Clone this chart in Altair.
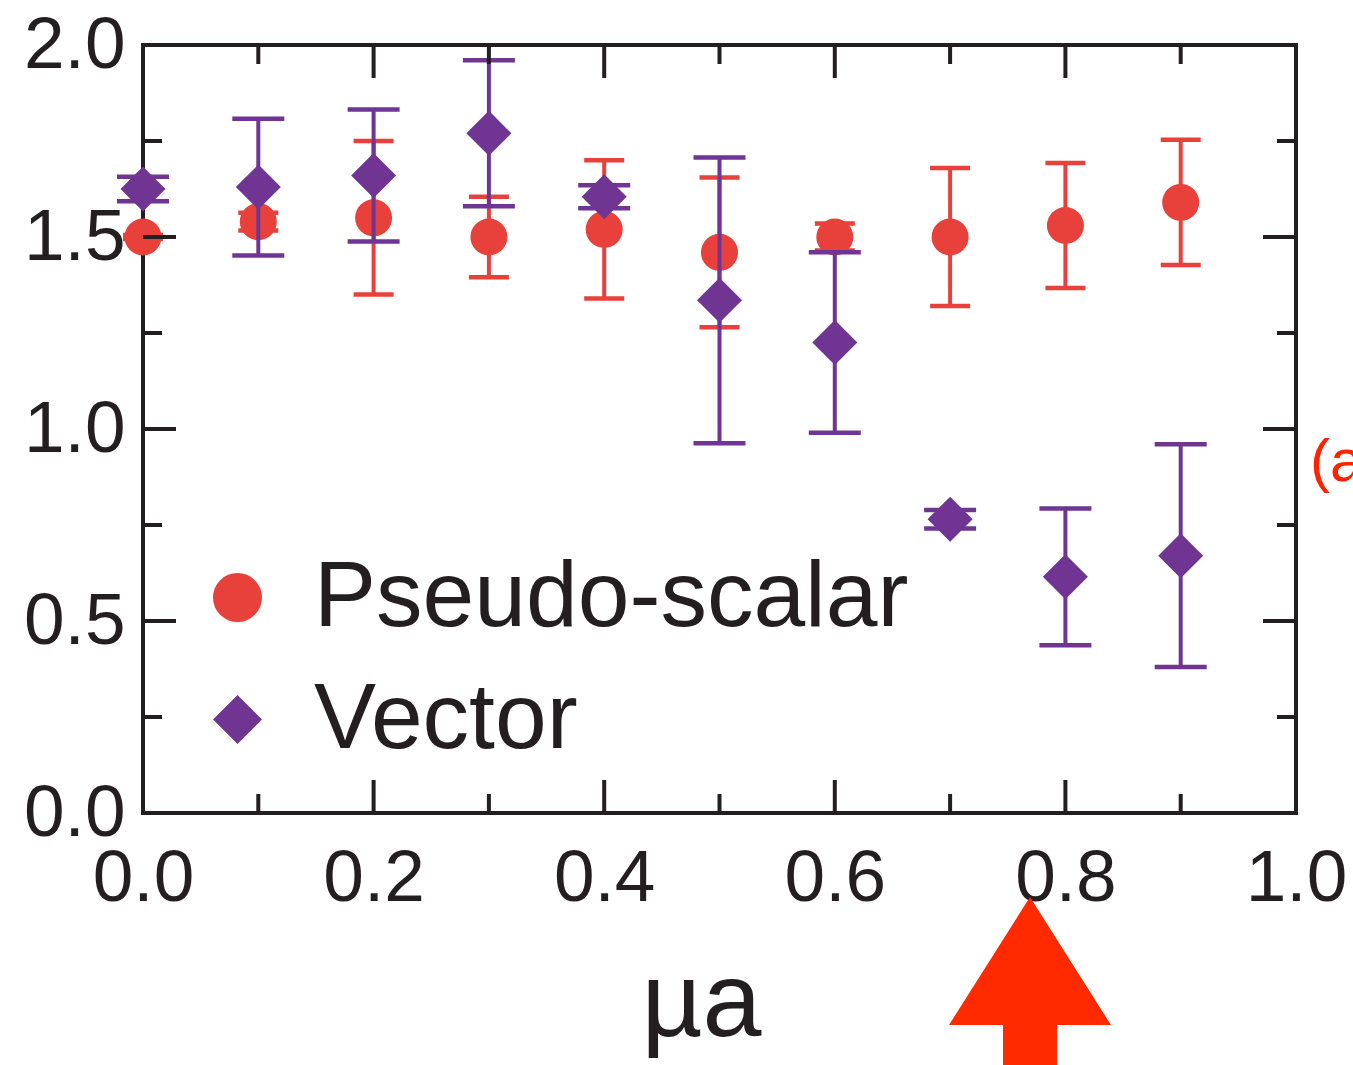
import altair as alt
import pandas as pd

# Lattice mass ratios against the mass parameter mu*a
mu = [0.0, 0.1, 0.2, 0.3, 0.4, 0.5, 0.6, 0.7, 0.8, 0.9]
pseudo_scalar = [1.50, 1.54, 1.55, 1.50, 1.52, 1.46, 1.50, 1.50, 1.53, 1.59]
pseudo_scalar_err = [0.005, 0.023, 0.20, 0.105, 0.18, 0.195, 0.035, 0.18, 0.163, 0.163]
vector = [1.625, 1.63, 1.66, 1.77, 1.605, 1.335, 1.225, 0.765, 0.615, 0.67]
vector_err = [0.032, 0.178, 0.172, 0.19, 0.03, 0.372, 0.235, 0.024, 0.178, 0.29]

series_names = ["Pseudo-scalar", "Vector"]
series_colors = ["#e8403a", "#703593"]
series_shapes = ["circle", "diamond"]

x_major = [0.0, 0.2, 0.4, 0.6, 0.8, 1.0]
x_minor = [0.1, 0.3, 0.5, 0.7, 0.9]
y_major = [0.0, 0.5, 1.0, 1.5, 2.0]
y_minor = [0.25, 0.75, 1.25, 1.75]

W, H = 1153, 768
FRAME = "#231f20"
FONT = "Liberation Sans"

rows = []
for name, vals, errs in [("Pseudo-scalar", pseudo_scalar, pseudo_scalar_err),
                         ("Vector", vector, vector_err)]:
    for m, v, e in zip(mu, vals, errs):
        rows.append({"mu": m, "value": v, "lo": v - e, "hi": v + e, "series": name})
df = pd.DataFrame(rows)

xs = alt.Scale(domain=[0, 1], nice=False, zero=False)
ys = alt.Scale(domain=[0, 2], nice=False, zero=False)

x_axis = alt.Axis(values=x_major, format=".1f", labelFontSize=73, labelPadding=29,
                  labelFlush=False, labelOverlap=False, title="µa",
                  titleFontSize=106, titleFont=FONT, titleFontWeight="normal",
                  titleColor=FRAME, titleX=558, titleY=222, titleAlign="center",
                  titleBaseline="alphabetic", titleAngle=0)
y_axis = alt.Axis(values=y_major, format=".1f", labelFontSize=73, labelPadding=18,
                  labelFlush=False, labelOverlap=False, title=None)

color_scale = alt.Scale(domain=series_names, range=series_colors)
shape_scale = alt.Scale(domain=series_names, range=series_shapes)
legend = alt.Legend(title=None, orient="none", legendX=48, legendY=506,
                    labelFontSize=93, labelFont=FONT, labelColor=FRAME,
                    labelLimit=2000, symbolSize=2400, symbolStrokeWidth=0,
                    labelOffset=30, rowPadding=28, padding=0)

base = alt.Chart(df)


def series_layers(name, color, cap_len, size):
    sub = base.transform_filter(alt.datum.series == name)
    bars = sub.mark_rule(strokeWidth=4, color=color, opacity=1).encode(
        x=alt.X("mu:Q", scale=xs, axis=x_axis),
        y=alt.Y("lo:Q", scale=ys, axis=y_axis),
        y2="hi:Q",
    )
    caps_lo = sub.mark_tick(orient="horizontal", size=cap_len, thickness=4.5,
                            color=color, opacity=1).encode(x="mu:Q", y="lo:Q")
    caps_hi = sub.mark_tick(orient="horizontal", size=cap_len, thickness=4.5,
                            color=color, opacity=1).encode(x="mu:Q", y="hi:Q")
    pts = sub.mark_point(filled=True, opacity=1, size=size, strokeWidth=0).encode(
        x="mu:Q",
        y="value:Q",
        color=alt.Color("series:N", scale=color_scale, legend=legend),
        shape=alt.Shape("series:N", scale=shape_scale, legend=legend),
    )
    return [bars, caps_lo, caps_hi, pts]


# Inward ticks on all four sides of the frame
def tick_layers(values, length, horizontal_axis):
    t = alt.Chart(pd.DataFrame({"v": values}))
    if horizontal_axis:
        bottom = t.mark_rule(strokeWidth=4, color=FRAME).encode(
            x=alt.X("v:Q", scale=xs), y=alt.value(H), y2=alt.value(H - length))
        top = t.mark_rule(strokeWidth=4, color=FRAME).encode(
            x=alt.X("v:Q", scale=xs), y=alt.value(0), y2=alt.value(length))
        return [bottom, top]
    left = t.mark_rule(strokeWidth=4, color=FRAME).encode(
        y=alt.Y("v:Q", scale=ys), x=alt.value(0), x2=alt.value(length))
    right = t.mark_rule(strokeWidth=4, color=FRAME).encode(
        y=alt.Y("v:Q", scale=ys), x=alt.value(W), x2=alt.value(W - length))
    return [left, right]


ticks = (tick_layers(x_major, 33, True) + tick_layers(x_minor, 19, True)
         + tick_layers(y_major, 33, False) + tick_layers(y_minor, 19, False))

# Red pointer arrow under the axis and the panel tag at the right edge
arrow_path = "M0,-0.84L0.81,0.44L0.27,0.44L0.27,1.0L-0.27,1.0L-0.27,0.44L-0.81,0.44Z"
arrow = alt.Chart(pd.DataFrame({"label": ["arrow"]})).mark_point(
    shape=arrow_path, size=40000, filled=True, color="#ff2a00", opacity=1,
    strokeWidth=0).encode(x=alt.value(887), y=alt.value(936))
tag = alt.Chart(pd.DataFrame({"label": ["(a)"]})).mark_text(
    font=FONT, fontSize=60, color="#ff2200", align="left", baseline="middle").encode(
    x=alt.value(1167), y=alt.value(418), text="label:N")

layers = (series_layers("Pseudo-scalar", series_colors[0], 40, 1370)
          + series_layers("Vector", series_colors[1], 52, 2025)
          + ticks + [arrow, tag])

chart = alt.layer(*layers).properties(
    width=W, height=H,
    padding={"left": 143, "top": 45, "right": 57, "bottom": 252},
    autosize=alt.AutoSizeParams(type="none"),
    background="white",
).configure_view(
    stroke=FRAME, strokeWidth=4
).configure_axis(
    grid=False, ticks=False, domain=False, labelFont=FONT, labelColor=FRAME,
)

chart.save("out.html", embed_options={"renderer": "svg", "actions": False})
